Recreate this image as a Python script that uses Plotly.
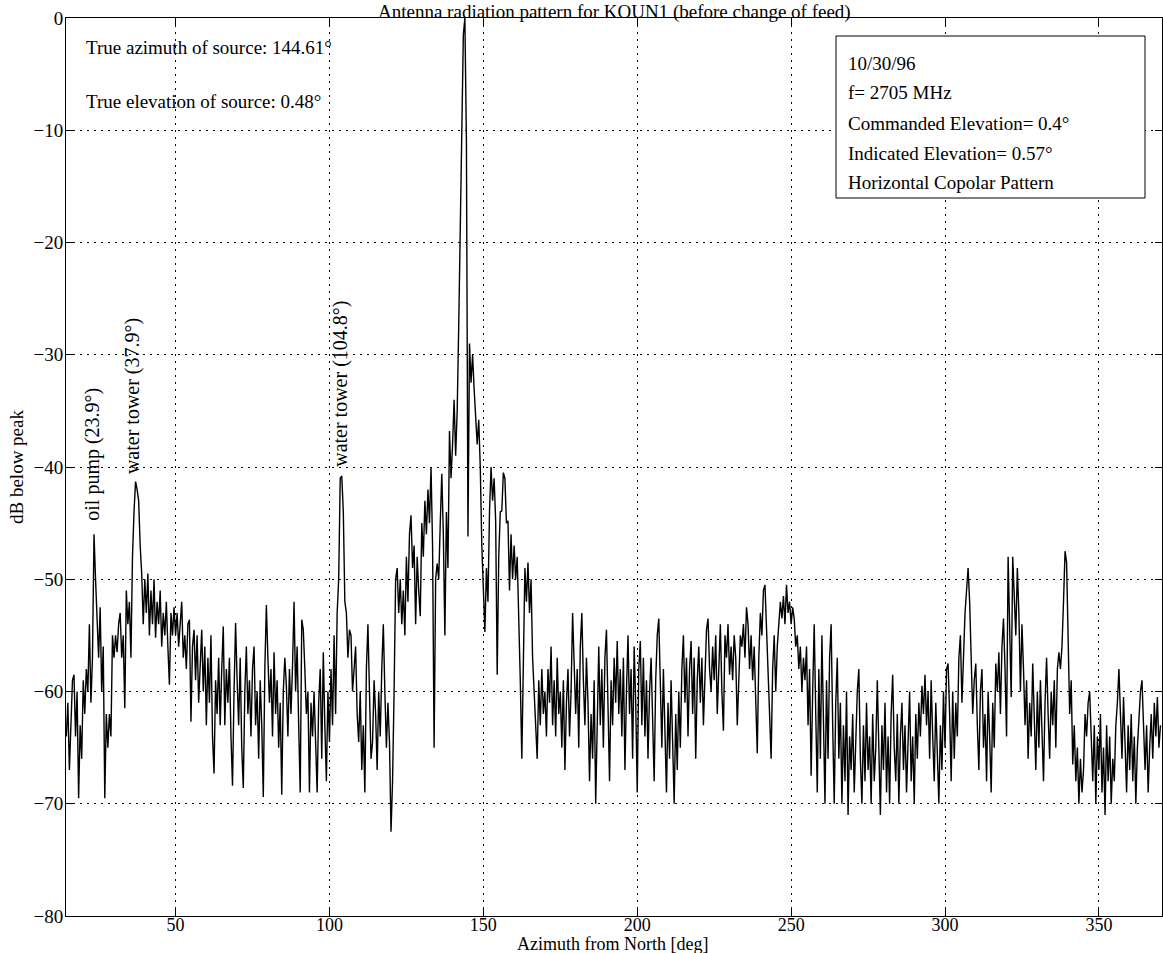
import plotly.graph_objects as go

# ---------------- data ----------------
AZ_START = 14.5   # first sample azimuth [deg]
AZ_STEP = 0.5     # sampling step [deg]

db_below_peak = [
    -64,
    # 15 - 24.5
    -61, -67, -62, -59, -58.5, -64, -60, -69.5, -63, -66, -59, -62, -58, -60, -54, -61, -57, -46, -50, -54,
    # 25 - 34.5
    -57, -52.5, -60, -56, -69.5, -62, -65, -62, -64, -55, -57, -55, -56.5, -54, -53, -57, -55, -61.5, -51, -54,
    # 35 - 39.5
    -52, -57, -48, -44, -41.3, -42, -43, -47, -49.5, -54,
    # 40 - 49.5
    -50, -53, -49.5, -55, -51, -54, -50, -55.2, -52, -54, -51, -56, -53, -55, -52, -56, -59.4, -53, -55, -52.5,
    # 50 - 59.5
    -55, -53, -56, -54, -52, -57, -55, -58, -54, -53.6, -62.7, -56, -54.5, -59, -55, -61, -57, -54.5, -60, -56,
    # 60 - 69.5
    -63, -57, -61, -55, -64, -67.3, -59, -62, -57, -63, -58, -54.2, -63, -58, -61, -57, -64, -68.4, -60, -53.9,
    # 70 - 79.5
    -59, -63, -57, -65, -68.6, -60, -56, -62, -59, -64, -58, -56, -63, -60, -66, -59, -63, -69.4, -58, -52.3,
    # 80 - 89.5
    -57, -61, -58, -64, -56.5, -62, -59, -65, -61, -69.2, -60, -57, -59.5, -64, -58, -62, -57.7, -52, -60, -56,
    # 90 - 94.5
    -63, -69, -53.6, -54.5, -58, -62, -60, -69, -61, -64,
    # 95 - 104.5
    -60, -64, -69, -61, -58, -66, -56.5, -63, -68, -60, -64.5, -58, -63, -55, -62, -53, -50, -41, -40.8, -44,
    # 105 - 114.5
    -52, -53, -57, -54.5, -55, -60, -58, -56, -62, -64.5, -60, -67, -63, -69, -58, -54, -60, -66, -64.5, -59,
    # 115 - 124.5
    -62, -67, -60, -64, -58, -54, -60, -65, -61, -64.5, -72.5, -68, -60, -50, -49, -53, -50, -54, -51, -55,
    # 125 - 134.5
    -48, -52, -46, -44.3, -49, -47, -54, -48, -51, -53.3, -45, -48, -43, -46, -42, -45, -40, -47, -65, -50,
    # 135 - 144.5
    -48.6, -50, -45, -40.6, -46, -55, -44, -49, -36.8, -41, -38, -34, -39, -35, -27.4, -18, -7, -1.5, 0, -11,
    # 145 - 154.5
    -46.2, -29, -32.5, -30, -33, -36, -38, -35.8, -40, -47, -51, -54.7, -49, -52, -44, -40, -43, -41, -44.8, -58.5,
    # 155 - 164.5
    -48, -44, -43.9, -40.5, -41, -45, -44.8, -51, -46, -50, -47, -50, -48, -53, -59, -66, -56, -49, -52, -48.5,
    # 165 - 174.5
    -53, -50, -57, -60, -64, -66, -59, -63, -58, -62, -60, -64, -58, -61, -56, -63, -59, -64, -57, -62,
    # 175 - 184.5
    -60, -65, -59, -67, -61, -58, -64, -60, -53, -57, -62, -58, -65, -56, -53, -59, -63, -57, -61, -68,
    # 185 - 194.5
    -62, -66, -59, -70, -61, -56, -63, -58, -65, -57, -54.5, -60, -68, -59, -63, -57, -61, -55.5, -62, -58,
    # 195 - 204.5
    -64, -57, -67, -60, -55, -62, -58, -66, -56, -61, -69, -58, -55.5, -63, -57, -64, -59, -66, -60, -57,
    # 205 - 214.5
    -63, -68, -59, -55, -53.5, -60, -65, -58, -63, -69, -61, -66, -59, -64, -70, -62, -67, -60, -65, -58,
    # 215 - 224.5
    -55, -61, -57, -64, -58, -55.5, -62, -57, -66, -59, -56, -61, -57, -63, -58, -54.5, -53.5, -58, -60, -56,
    # 225 - 234.5
    -59, -55, -62, -57, -54, -60, -63.5, -55, -57, -54, -58.5, -56, -59, -55, -57, -63, -58, -55, -56, -54,
    # 235 - 244.5
    -57, -52.5, -54, -58, -55, -59, -56, -61, -65.5, -57, -53, -55, -51, -50.5, -54, -57, -62, -66, -58, -55,
    # 245 - 254.5
    -60, -56, -54, -52, -53.5, -51.5, -54, -50.5, -53, -52, -54, -52.5, -53.5, -56, -55, -58, -56, -60, -57, -59,
    # 255 - 264.5
    -56, -63, -58, -67.5, -60, -54, -62, -69, -58, -66, -55, -64, -70, -59, -66, -57, -54, -63, -70, -61,
    # 265 - 274.5
    -57, -66, -61, -70, -63, -68, -60, -71, -64, -67, -62, -69, -65, -60, -58, -66, -70, -63, -68, -61,
    # 275 - 284.5
    -67, -64, -70, -62, -68, -65, -59, -64, -71, -63, -67, -61, -69, -64, -70, -62, -58.5, -65, -68, -62,
    # 285 - 294.5
    -70, -64, -61, -67, -63, -69, -65, -60, -68, -64, -70, -62, -66, -61, -64, -59.5, -62, -58.5, -63, -60,
    # 295 - 304.5
    -66, -59, -64, -68, -61, -66, -70, -63, -67, -60, -65, -58, -57.5, -62, -68, -60, -66, -61, -64, -57,
    # 305 - 314.5
    -55, -61, -56, -53, -51, -49, -52, -58, -62, -59, -57.5, -63, -67, -60, -58, -65, -62, -68, -60, -64,
    # 315 - 324.5
    -69, -61, -65, -57.5, -60, -56.5, -62, -56, -53.5, -58, -64, -48, -54, -60.5, -48, -52, -55, -49, -53, -60,
    # 325 - 334.5
    -54, -58, -63, -59, -66, -61, -64, -57.5, -62, -67, -60, -65, -59, -63, -68, -61, -57, -62, -66, -60,
    # 335 - 344.5
    -63, -59, -65, -58, -56.5, -58, -56, -52, -47.5, -48.5, -56, -62, -59, -66.5, -63, -68, -65, -70, -66, -69,
    # 345 - 354.5
    -67, -62, -64, -61, -60, -65, -68, -63, -70, -64, -67, -62, -69, -65, -71, -63, -68, -64, -70, -66,
    # 355 - 364.5
    -68, -63, -61, -58, -62, -66, -60.5, -64, -69, -63, -67, -62, -68, -64, -70, -65, -62, -60, -59, -64,
    # 365 - 370
    -67, -63, -69, -65, -62, -66, -61, -64, -60.5, -65, -63,
]
azimuth = [AZ_START + i * AZ_STEP for i in range(len(db_below_peak))]

x_ticks = [50, 100, 150, 200, 250, 300, 350]
y_ticks = [0, -10, -20, -30, -40, -50, -60, -70, -80]

# labelled targets: (text, azimuth of label, dB at label bottom)
target_labels = ["oil pump (23.9°)", "water tower (37.9°)", "water tower (104.8°)"]
target_az = [23.2, 36.2, 103.6]
target_db = [-45.0, -40.8, -40.2]

info_lines = ["10/30/96", "f= 2705 MHz", "Commanded Elevation= 0.4°",
              "Indicated Elevation= 0.57°", "Horizontal Copolar Pattern"]
source_lines = ["True azimuth of source: 144.61°", "True elevation of source: 0.48°"]

# ---------------- figure ----------------
W, H = 1163, 953
PL, PR, PT, PB = 66, 1162, 18, 916   # wanted plot area in page pixels
ML, MT = PL, PT
MR, MB = W - PR, H - PB
PW, PH = W - ML - MR, H - MT - MB
FONT = "Liberation Serif"


def px_x(px):
    return (px - PL) / PW


def px_y(py):
    return (PB - py) / PH


fig = go.Figure()
fig.add_trace(go.Scatter(x=azimuth, y=db_below_peak, mode="lines",
                         line=dict(color="black", width=1.4), showlegend=False,
                         hoverinfo="x+y"))

axis_common = dict(
    showline=True, linecolor="black", linewidth=1, mirror="allticks",
    ticks="inside", ticklen=7, tickcolor="black", tickwidth=1,
    showgrid=True, gridcolor="black", gridwidth=1, griddash="2px,5px",
    zeroline=False,
)

fig.update_layout(
    width=W, height=H,
    margin=dict(l=ML, r=MR, t=MT, b=MB, autoexpand=False),
    paper_bgcolor="white", plot_bgcolor="white",
    xaxis=dict(range=[14.4, 370.5], tickvals=x_ticks, ticktext=[str(v) for v in x_ticks],
               automargin=False, ticklabelstandoff=-8,
               tickfont=dict(family=FONT, size=18, color="black"), **axis_common),
    yaxis=dict(range=[-80, 0], tickvals=y_ticks,
               ticktext=[("\u2212" + str(-v)) if v < 0 else str(v) for v in y_ticks],
               automargin=False, ticklabelstandoff=-2,
               tickfont=dict(family=FONT, size=19, color="black"), **axis_common),
    font=dict(family=FONT, color="black"),
)

annotations = []
# title
annotations.append(dict(text="Antenna radiation pattern for KOUN1 (before change of feed)",
                        xref="paper", yref="paper", x=px_x(614), y=px_y(12),
                        xanchor="center", yanchor="middle", showarrow=False,
                        font=dict(family=FONT, size=19, color="black")))
# axis titles
annotations.append(dict(text="Azimuth from North [deg]", xref="paper", yref="paper",
                        x=px_x(612), y=px_y(944), xanchor="center", yanchor="middle",
                        showarrow=False, font=dict(family=FONT, size=18, color="black")))
annotations.append(dict(text="dB below peak", xref="paper", yref="paper",
                        x=px_x(16), y=px_y(467), xanchor="center", yanchor="middle",
                        textangle=-90, showarrow=False,
                        font=dict(family=FONT, size=19, color="black")))
# source info (top left)
for txt, py in zip(source_lines, [48, 101]):
    annotations.append(dict(text=txt, xref="paper", yref="paper", x=px_x(84), y=px_y(py),
                            xanchor="left", yanchor="middle", showarrow=False,
                            font=dict(family=FONT, size=19, color="black")))
# rotated target labels
for txt, ax, ay in zip(target_labels, target_az, target_db):
    annotations.append(dict(text=txt, xref="x", yref="y", x=ax, y=ay,
                            xanchor="center", yanchor="bottom", textangle=-90,
                            showarrow=False, font=dict(family=FONT, size=20, color="black")))
# info box lines
for i, txt in enumerate(info_lines):
    annotations.append(dict(text=txt, xref="paper", yref="paper", x=px_x(846),
                            y=px_y(63 + 30 * i), xanchor="left", yanchor="middle",
                            showarrow=False, font=dict(family=FONT, size=19, color="black")))
fig.update_layout(annotations=annotations)

fig.add_shape(type="rect", xref="paper", yref="paper",
              x0=px_x(836), x1=px_x(1145), y0=px_y(198), y1=px_y(36),
              line=dict(color="black", width=1), fillcolor="white", layer="above")

# remove the default 8px body margin of the page so the figure sits at (0, 0)
fig.write_html("out.html", config={"displayModeBar": False},
               post_script="document.body.style.margin='0px';")
